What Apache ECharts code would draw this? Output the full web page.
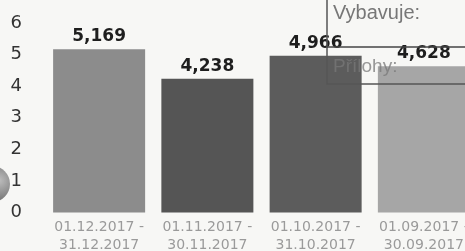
<!DOCTYPE html>
<html>
<head>
<meta charset="utf-8">
<script src="https://cdn.jsdelivr.net/npm/echarts@6/dist/echarts.min.js"></script>
<style>
  html, body { margin: 0; padding: 0; background: #f7f7f5; }
  #chart { width: 465px; height: 251px; }
</style>
</head>
<body>
<div id="chart"></div>
<script>
// obdobi a hodnoty
var periods = [
  "01.12.2017 -\n31.12.2017",
  "01.11.2017 -\n30.11.2017",
  "01.10.2017 -\n31.10.2017",
  "01.09.2017 -\n30.09.2017"
];
var values = [5.169, 4.238, 4.966, 4.628];
var valueLabels = ["5,169", "4,238", "4,966", "4,628"];
var barColors = ["#8c8c8c", "#555555", "#5c5c5c", "#a6a6a6"];

var chart = echarts.init(document.getElementById("chart"));

var option = {
  backgroundColor: "#f7f7f5",
  animation: false,
  grid: { left: 45, width: 433, top: 23, bottom: 38.5, outerBoundsMode: "none", containLabel: false },
  xAxis: {
    type: "category",
    data: periods,
    axisLine: { show: false },
    axisTick: { show: false },
    axisLabel: {
      color: "#9a9a9a",
      fontSize: 14,
      lineHeight: 18,
      margin: 6,
      fontFamily: "DejaVu Sans",
      interval: 0,
      hideOverlap: false
    }
  },
  yAxis: {
    type: "value",
    min: 0,
    max: 6,
    interval: 1,
    splitLine: { show: false },
    axisLabel: {
      color: "#333",
      fontSize: 18,
      margin: 23,
      fontFamily: "DejaVu Sans"
    }
  },
  series: [
    {
      type: "bar",
      barCategoryGap: "15%",
      data: values.map(function (v, i) {
        return { value: v, itemStyle: { color: barColors[i] } };
      }),
      label: {
        show: true,
        position: "top",
        distance: 4,
        color: "#1e1e1e",
        fontSize: 17,
        fontWeight: "bold",
        fontFamily: "DejaVu Sans",
        formatter: function (p) { return valueLabels[p.dataIndex]; }
      }
    }
  ],
  graphic: [
    // kus formulare v rohu
    { type: "rect", shape: { x: 327, y: -2, width: 150, height: 86 },
      style: { fill: "rgba(255,255,255,0)", stroke: "#555", lineWidth: 1.5 }, z: 10 },
    { type: "line", shape: { x1: 327, y1: 47, x2: 470, y2: 47 },
      style: { stroke: "#444", lineWidth: 1.5 }, z: 10 },
    { type: "text", left: 333, top: 3,
      style: { text: "Vybavuje:", fill: "#777", font: "20px 'Liberation Sans'" }, z: 10 },
    { type: "text", left: 333, top: 57,
      style: { text: "Přílohy:", fill: "rgba(120,120,120,0.75)", font: "19px 'Liberation Sans'" }, z: 10 },
    { type: "circle", shape: { cx: -8, cy: 184, r: 18 },
      style: {
        fill: new echarts.graphic.RadialGradient(0.7, 0.4, 0.8, [
          { offset: 0, color: "#bdbdbd" },
          { offset: 1, color: "#5a5a5a" }
        ])
      }, z: 10 }
  ]
};

chart.setOption(option);
</script>
</body>
</html>
